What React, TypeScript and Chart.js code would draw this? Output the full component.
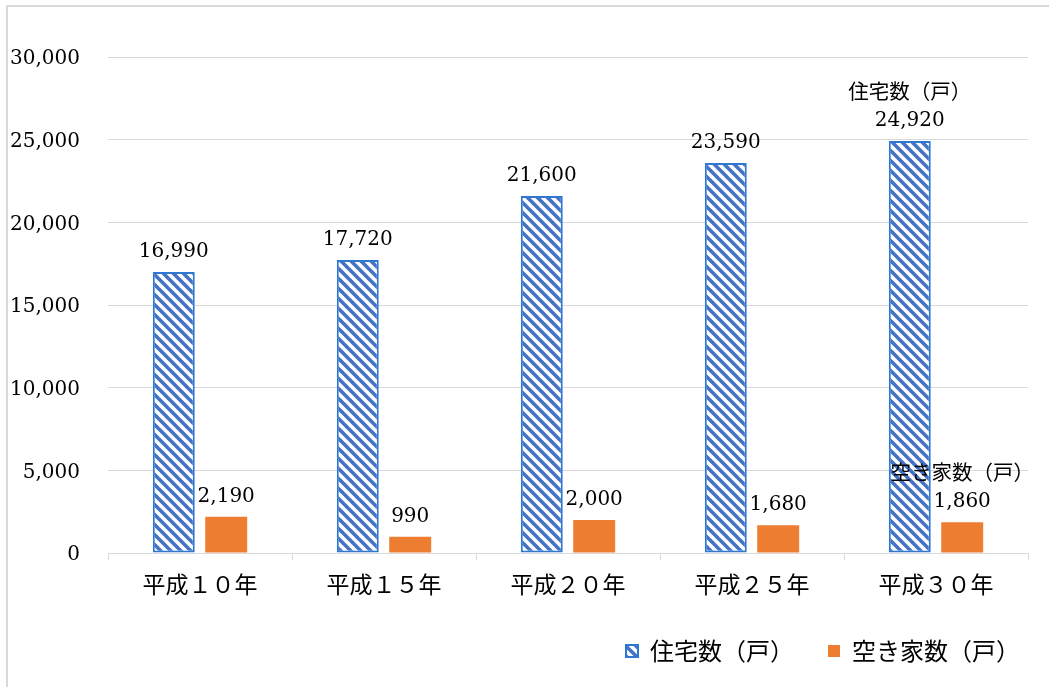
import React, { useEffect, useRef } from 'react';
import { Chart, registerables } from 'chart.js';
Chart.register(...registerables);

const categories = ['平成１０年', '平成１５年', '平成２０年', '平成２５年', '平成３０年'];
const housing = [16990, 17720, 21600, 23590, 24920];
const vacant = [2190, 990, 2000, 1680, 1860];
const seriesNames = ['住宅数（戸）', '空き家数（戸）'];
const yTicks = [0, 5000, 10000, 15000, 20000, 25000, 30000];

const JP = '"Noto Sans CJK JP", "Noto Sans", sans-serif';
const SERIF = '"DejaVu Serif", serif';

function makeHatch(): CanvasPattern | string {
  const n = 10;
  const c = document.createElement('canvas');
  c.width = n;
  c.height = n;
  const g = c.getContext('2d');
  if (!g) return '#4472C4';
  g.fillStyle = '#ffffff';
  g.fillRect(0, 0, n, n);
  g.strokeStyle = '#4472C4';
  g.lineWidth = 3.6;
  for (let k = -1; k <= 1; k++) {
    g.beginPath();
    g.moveTo(-2, n * k - 2);
    g.lineTo(n + 2, n * k + n + 2);
    g.stroke();
  }
  const p = g.createPattern(c, 'repeat');
  return p || '#4472C4';
}

const framePlugin = {
  id: 'frame',
  beforeDraw(chart: any) {
    const ctx = chart.ctx;
    ctx.save();
    ctx.fillStyle = '#ffffff';
    ctx.fillRect(0, 0, chart.width, chart.height);
    ctx.strokeStyle = '#d9d9d9';
    ctx.lineWidth = 2;
    ctx.strokeRect(7, 6, chart.width + 50, chart.height + 50);
    ctx.restore();
  },
};

const legendShift = {
  id: 'legendShift',
  afterLayout(chart: any) {
    const lg = chart.legend;
    if (lg) {
      lg.left += 26;
      lg.right += 26;
      const h = lg.height;
      lg.top = 605;
      lg.bottom = lg.top + h;
    }
  },
};

const valueLabels = {
  id: 'valueLabels',
  afterDatasetsDraw(chart: any) {
    const ctx = chart.ctx;
    ctx.save();
    chart.data.datasets.forEach((ds: any, di: number) => {
      const meta = chart.getDatasetMeta(di);
      const last = ds.data.length - 1;
      meta.data.forEach((el: any, i: number) => {
        const v = ds.data[i] as number;
        const { x, y } = el.getProps(['x', 'y'], true);
        ctx.fillStyle = '#000';
        ctx.textAlign = 'center';
        ctx.textBaseline = 'alphabetic';
        ctx.font = `20px ${SERIF}`;
        ctx.fillText(v.toLocaleString('en-US'), x, y - 15);
        if (i === last) {
          ctx.font = `20.5px ${JP}`;
          ctx.fillText(ds.label, x, y - 15 - 27);
        }
      });
    });
    ctx.restore();
  },
};

export default function App() {
  const ref = useRef<HTMLCanvasElement | null>(null);
  useEffect(() => {
    if (!ref.current) return;
    const hatch = makeHatch();
    const chart = new Chart(ref.current, {
      type: 'bar',
      data: {
        labels: categories,
        datasets: [
          {
            label: seriesNames[0],
            data: housing,
            backgroundColor: hatch as any,
            borderColor: '#2E78D2',
            borderWidth: 2,
            borderSkipped: false,
            categoryPercentage: 0.57,
            barPercentage: 0.8,
          },
          {
            label: seriesNames[1],
            data: vacant,
            backgroundColor: '#ED7D31',
            borderWidth: 0,
            categoryPercentage: 0.57,
            barPercentage: 0.8,
          },
        ],
      },
      options: {
        responsive: false,
        animation: false,
        devicePixelRatio: 1,
        layout: { padding: { left: 8, right: 21, top: 57, bottom: 20 } },
        plugins: {
          tooltip: { enabled: false },
          legend: {
            position: 'bottom',
            align: 'end',
            labels: {
              boxWidth: 12,
              boxHeight: 12,
              padding: 34,
              color: '#000',
              font: { family: JP, size: 24 },
            },
          },
        },
        scales: {
          x: {
            grid: {
              offset: true,
              drawOnChartArea: false,
              color: '#d9d9d9',
              tickLength: 7,
            },
            border: { color: '#d9d9d9' },
            ticks: {
              color: '#000',
              font: { family: JP, size: 23 },
              padding: 10,
              maxRotation: 0,
            },
            afterFit: (s: any) => {
              s.height = 46;
            },
          },
          y: {
            min: yTicks[0],
            max: yTicks[yTicks.length - 1],
            afterBuildTicks: (s: any) => {
              s.ticks = yTicks.map((v) => ({ value: v }));
            },
            grid: { color: '#d9d9d9', drawTicks: false },
            border: { display: false },
            ticks: {
              color: '#000',
              font: { family: SERIF, size: 20 },
              padding: 28,
              labelOffset: 2,
              callback: (v: any) => Number(v).toLocaleString('en-US'),
            },
            afterFit: (s: any) => {
              s.width = 100;
            },
          },
        },
      },
      plugins: [framePlugin, legendShift, valueLabels],
    });
    return () => chart.destroy();
  }, []);
  return (
    <div style={{ position: 'fixed', left: 0, top: 0, width: 1049, height: 687, background: '#fff' }}>
      <canvas ref={ref} width={1049} height={687} style={{ display: 'block' }} />
    </div>
  );
}
